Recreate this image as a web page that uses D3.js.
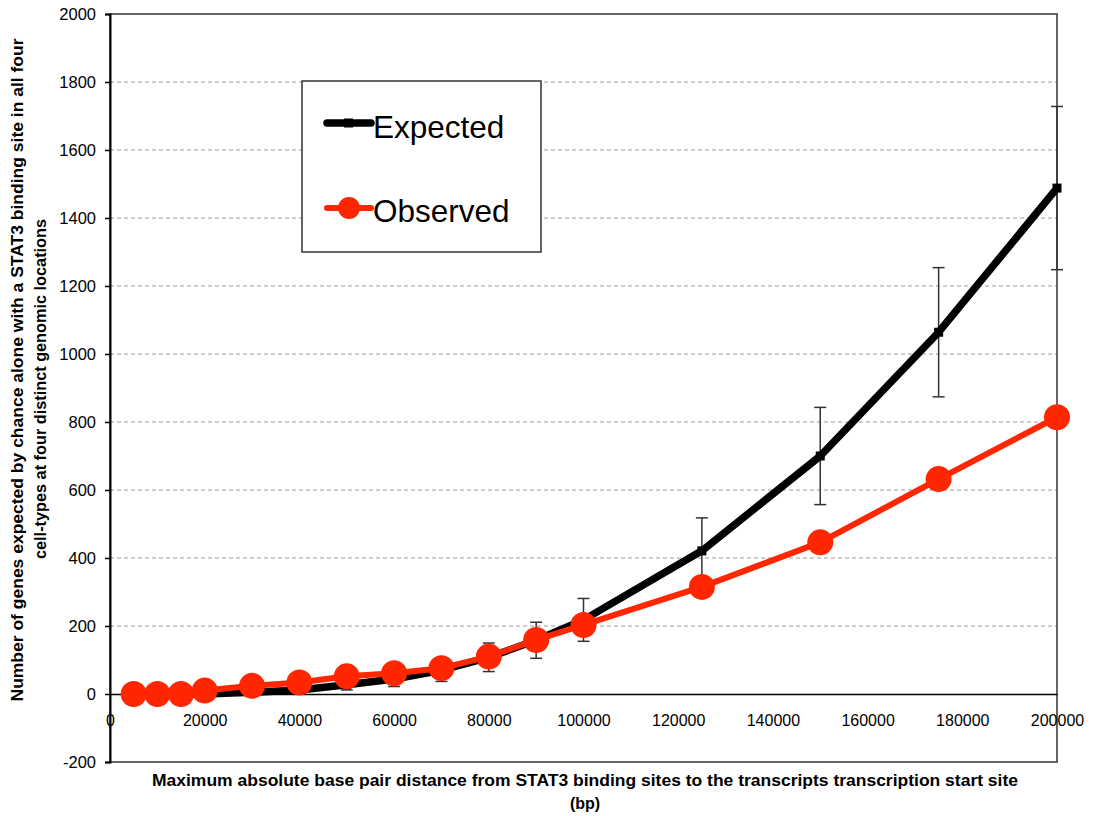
<!DOCTYPE html>
<html>
<head>
<meta charset="utf-8">
<script src="https://cdnjs.cloudflare.com/ajax/libs/d3/7.8.5/d3.min.js"></script>
<style>
  html, body { margin: 0; padding: 0; background: #fff; }
  svg { display: block; }
</style>
</head>
<body>
<script>
// Distance thresholds (bp)
const distances = [5000, 10000, 15000, 20000, 30000, 40000, 50000, 60000, 70000, 80000, 90000, 100000, 125000, 150000, 175000, 200000];
// Genes expected by chance (mean) and its spread
const expected = [0, 0, 0, 0, 5, 12, 27, 44, 70, 108, 158, 218, 421, 700, 1064, 1488];
const expectedErr = [1, 1, 2, 3, 5, 8, 15, 22, 33, 42, 53, 63, 97, 143, 190, 240];
// Genes actually observed
const observed = [0, 0, 0, 10, 24, 34, 52, 61, 76, 110, 159, 203, 315, 446, 632, 814];

const xTicks = [0, 20000, 40000, 60000, 80000, 100000, 120000, 140000, 160000, 180000, 200000];
const yTicks = [-200, 0, 200, 400, 600, 800, 1000, 1200, 1400, 1600, 1800, 2000];
const seriesNames = ["Expected", "Observed"];

const W = 1093, H = 816;
const plotL = 110, plotR = 1057, plotT = 14, plotB = 762;
const RED = "#ff2600";
const FONT = "'Liberation Sans', Arial, sans-serif";

const svg = d3.select("body").append("svg").attr("width", W).attr("height", H);

const x = d3.scaleLinear().domain([0, 200000]).range([plotL, plotR]);
const y = d3.scaleLinear().domain([-200, 2000]).range([plotB, plotT]);

// Dashed horizontal gridlines
svg.append("g").selectAll("line")
  .data(yTicks.filter(v => v !== 0 && v !== -200 && v !== 2000))
  .join("line")
  .attr("x1", plotL).attr("x2", plotR)
  .attr("y1", d => y(d)).attr("y2", d => y(d))
  .attr("stroke", "#9a9a9a").attr("stroke-width", 1)
  .attr("stroke-dasharray", "4,3");

// Plot frame
svg.append("rect")
  .attr("x", plotL).attr("y", plotT)
  .attr("width", plotR - plotL).attr("height", plotB - plotT)
  .attr("fill", "none").attr("stroke", "#333").attr("stroke-width", 1.5);

// Y axis
const yAxis = d3.axisLeft(y).tickValues(yTicks).tickSize(5).tickFormat(d => String(d));
const gy = svg.append("g").attr("transform", `translate(${plotL},0)`).call(yAxis);
gy.select(".domain").attr("stroke", "#000").attr("stroke-width", 2);
gy.selectAll(".tick line").attr("stroke", "#000").attr("stroke-width", 1.5);
gy.selectAll(".tick text")
  .attr("font-family", FONT).attr("font-size", 16.5).attr("fill", "#000").attr("x", -14);

// X axis drawn along y = 0, labels below
const xAxis = d3.axisBottom(x).tickValues(xTicks).tickSize(0).tickPadding(21).tickFormat(d => String(d));
const gx = svg.append("g").attr("transform", `translate(0,${y(0)})`).call(xAxis);
gx.select(".domain").attr("stroke", "#000").attr("stroke-width", 1.5);
gx.selectAll(".tick text")
  .attr("font-family", FONT).attr("font-size", 16).attr("fill", "#000");

// Expected series: error bars, line, square markers
const expData = distances.map((d, i) => ({ x: d, y: expected[i], e: expectedErr[i] }));
const obsData = distances.map((d, i) => ({ x: d, y: observed[i] }));

const eb = svg.append("g").attr("stroke", "#333").attr("stroke-width", 1.5);
eb.selectAll("line.v").data(expData).join("line").attr("class", "v")
  .attr("x1", d => x(d.x)).attr("x2", d => x(d.x))
  .attr("y1", d => y(d.y - d.e)).attr("y2", d => y(d.y + d.e));
eb.selectAll("line.t").data(expData).join("line").attr("class", "t")
  .attr("x1", d => x(d.x) - 6).attr("x2", d => x(d.x) + 6)
  .attr("y1", d => y(d.y + d.e)).attr("y2", d => y(d.y + d.e));
eb.selectAll("line.b").data(expData).join("line").attr("class", "b")
  .attr("x1", d => x(d.x) - 6).attr("x2", d => x(d.x) + 6)
  .attr("y1", d => y(d.y - d.e)).attr("y2", d => y(d.y - d.e));

const line = d3.line().x(d => x(d.x)).y(d => y(d.y));

svg.append("path").datum(expData)
  .attr("d", line).attr("fill", "none")
  .attr("stroke", "#000").attr("stroke-width", 7.5).attr("stroke-linejoin", "round");
svg.append("g").selectAll("rect").data(expData).join("rect")
  .attr("x", d => x(d.x) - 4.5).attr("y", d => y(d.y) - 4.5)
  .attr("width", 9).attr("height", 9).attr("fill", "#000");

// Observed series: line and circles
svg.append("path").datum(obsData)
  .attr("d", line).attr("fill", "none")
  .attr("stroke", RED).attr("stroke-width", 6).attr("stroke-linejoin", "round");
svg.append("g").selectAll("circle").data(obsData).join("circle")
  .attr("cx", d => x(d.x)).attr("cy", d => y(d.y)).attr("r", 13)
  .attr("fill", RED);

// Legend
const lg = svg.append("g");
lg.append("rect").attr("x", 302).attr("y", 81).attr("width", 239).attr("height", 171)
  .attr("fill", "#fff").attr("stroke", "#333").attr("stroke-width", 1.5);
lg.append("line").attr("x1", 327).attr("x2", 371).attr("y1", 123).attr("y2", 123)
  .attr("stroke", "#000").attr("stroke-width", 7.5).attr("stroke-linecap", "round");
lg.append("rect").attr("x", 344).attr("y", 118.5).attr("width", 9).attr("height", 9).attr("fill", "#000");
lg.append("line").attr("x1", 327).attr("x2", 371).attr("y1", 208).attr("y2", 208)
  .attr("stroke", RED).attr("stroke-width", 6).attr("stroke-linecap", "round");
lg.append("circle").attr("cx", 349).attr("cy", 208).attr("r", 11).attr("fill", RED);
lg.selectAll("text").data(seriesNames).join("text")
  .attr("x", 373).attr("y", (d, i) => i === 0 ? 138 : 222)
  .attr("font-family", FONT).attr("font-size", 31.5).attr("fill", "#000")
  .text(d => d);

// Axis titles
svg.append("text")
  .attr("transform", "translate(23,370) rotate(-90)")
  .attr("text-anchor", "middle").attr("font-family", FONT).attr("font-weight", "bold")
  .attr("font-size", 16).attr("textLength", 663).attr("lengthAdjust", "spacingAndGlyphs")
  .text("Number of genes expected by chance alone with a STAT3 binding site in all four");
svg.append("text")
  .attr("transform", "translate(46,389) rotate(-90)")
  .attr("text-anchor", "middle").attr("font-family", FONT).attr("font-weight", "bold")
  .attr("font-size", 16).attr("textLength", 340).attr("lengthAdjust", "spacingAndGlyphs")
  .text("cell-types at four distinct genomic locations");

svg.append("text").attr("x", 585).attr("y", 786)
  .attr("text-anchor", "middle").attr("font-family", FONT).attr("font-weight", "bold")
  .attr("font-size", 16).attr("textLength", 866).attr("lengthAdjust", "spacingAndGlyphs")
  .text("Maximum absolute base pair distance from STAT3 binding sites to the transcripts transcription start site");
svg.append("text").attr("x", 585).attr("y", 809)
  .attr("text-anchor", "middle").attr("font-family", FONT).attr("font-weight", "bold")
  .attr("font-size", 16)
  .text("(bp)");
</script>
</body>
</html>
